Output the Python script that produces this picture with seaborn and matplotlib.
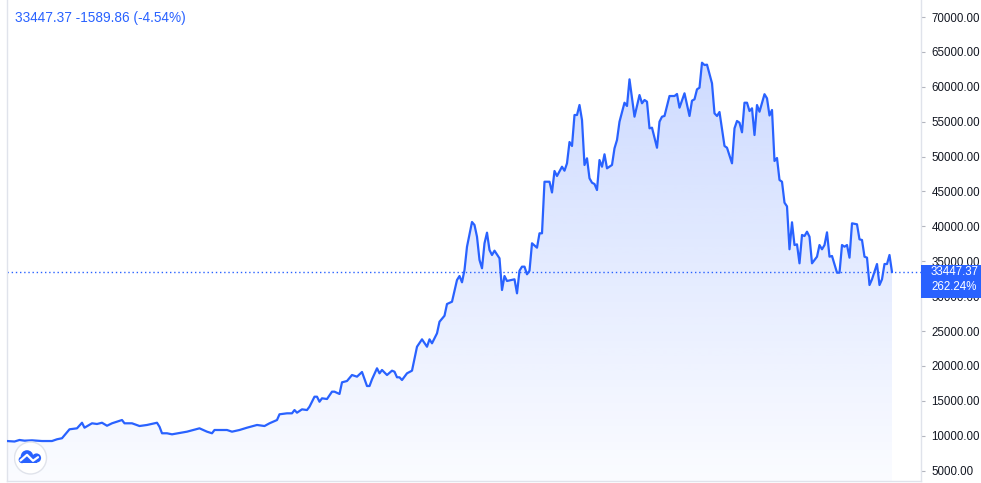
import numpy as np
import pandas as pd
import matplotlib
matplotlib.use("Agg")
import matplotlib.pyplot as plt
import seaborn as sns
from matplotlib.patches import Rectangle, Circle, PathPatch
from matplotlib.path import Path
from matplotlib.colors import to_rgb
from matplotlib.transforms import blended_transform_factory

# ---------------- data ----------------
days = [0, 3, 5, 7, 10, 14, 18, 20, 22, 25, 28, 30, 31, 34, 36, 38, 40, 42, 46, 47,
        50, 53, 56, 60, 61, 62, 64, 66, 72, 77, 80, 82, 83, 88, 90, 93, 96, 100, 103, 105,
        108, 109, 112, 114, 115, 116, 118, 120, 121, 123, 124,
        125, 126, 128, 130, 131, 133, 134, 136, 138, 140, 142, 144, 145, 146, 148, 149, 150, 152, 154, 155,
        156, 157, 158, 160, 162, 164, 166, 168, 169, 170, 172, 173, 175, 176, 178, 180, 181, 182, 183, 184,
        186, 187, 188, 189, 190, 191, 192, 193, 194, 195, 197, 198, 199, 200, 203, 204, 205, 206, 207, 208,
        209, 210, 212, 213, 214,
        215, 217, 218, 219, 220, 222, 223, 224, 225, 226, 227, 228, 229, 230, 231, 232, 233, 234, 235, 236,
        237, 238, 239, 240, 242, 243, 244, 245, 247, 248, 249, 251, 253, 254, 255, 256, 257, 258, 260, 261,
        262, 263, 265, 267, 268, 269, 271, 273, 274, 275, 276, 277, 278, 279, 280,
        282, 283, 284, 285, 287, 288, 290, 291, 292, 293, 294, 295, 296, 297, 298, 299, 300, 301, 303, 304,
        305, 306, 307, 308, 309, 310, 311, 312, 313, 314, 315, 316, 317, 318, 319, 320, 321, 322, 324, 325,
        326, 327, 328, 329, 330, 332, 333, 334, 335, 336, 337, 338, 340, 341, 342, 343, 344, 345, 346, 348,
        349, 350, 351, 352, 353, 354]

prices = [9250, 9180, 9400, 9300, 9350, 9250, 9250, 9500, 9650, 10930, 11070, 11870, 11160, 11790, 11690, 11870, 11440, 11790, 12260, 11790,
          11790, 11400, 11550, 11870, 11300, 10360, 10360, 10210, 10590, 11070, 10590, 10360, 10830, 10830, 10590, 10830, 11160, 11550, 11400, 11790,
          12260, 13080, 13220, 13220, 13690, 13310, 13790, 13690, 14170, 15600, 15600,
          14880, 15370, 15270, 16320, 16320, 15990, 17660, 17850, 18710, 18470, 19140, 17130, 17130, 18090, 19670, 18950, 19430, 18710, 19330, 19180,
          18380, 18380, 17990, 18950, 19330, 22760, 23820, 22760, 23820, 23250, 24680, 26340, 27200, 28880, 29210, 32320, 32890, 31990, 33750, 37090,
          40630, 40200, 38520, 35190, 34000, 37580, 39100, 36620, 35900, 36520, 35430, 30890, 32890, 32180, 32420, 30410, 33650, 34230, 34230, 33140,
          33650, 37580, 36950, 39010, 39010,
          46400, 46400, 44860, 47940, 47220, 48550, 47980, 49040, 52090, 51520, 55960, 55960, 57390, 55240, 48800, 49760, 46890, 46260, 46070, 45210,
          49510, 48550, 50330, 48320, 48800, 51190, 52380, 55000, 57720, 57250, 61070, 55720, 58820, 57640, 58110, 57870, 54050, 54140, 51270, 55000,
          55720, 55820, 58680, 58680, 58970, 57010, 59070, 55820, 58010, 58210, 59640, 59870, 63450, 63120, 63170,
          60500, 56200, 55820, 56390, 51520, 51270, 49040, 54050, 55100, 54860, 53480, 57720, 57720, 56530, 56920, 53090, 57390, 56430, 58940, 58350,
          55890, 56680, 49370, 49800, 46650, 46400, 43400, 42870, 36720, 40590, 37330, 37430, 34710, 38770, 38620, 39240, 38520, 34710, 35660, 37330,
          36720, 37330, 39150, 35660, 35760, 33370, 33370, 37330, 37090, 37330, 35520, 40440, 40300, 38150, 38050, 35660, 35520, 31600, 32420, 34610,
          31600, 32420, 34610, 34610, 35900, 33447.37]

last_price = 33447.37
change_abs = -1589.86
change_pct = -4.54
total_pct = 262.24

y_ticks = list(range(5000, 70001, 5000))
y_tick_labels = [f"{v:.2f}" for v in y_ticks]

assert len(days) == len(prices)
df = pd.DataFrame({"day": days, "price": prices})

# ---------------- style ----------------
BLUE = "#2962ff"
GRID = "#e0e3eb"
TEXT = "#131722"

sns.set_theme(style="white")
plt.rcParams["font.family"] = ["Liberation Sans", "DejaVu Sans"]

W, H = 981, 483
fig = plt.figure(figsize=(W / 100, H / 100), dpi=100)
fig.patch.set_facecolor("white")
ax = fig.add_axes([7 / W, 2 / H, 914 / W, 481 / H])
ax.set_facecolor("white")

y_lo, y_hi = 3523, 72436
x_lo, x_hi = 0, 365.6

# line
sns.lineplot(data=df, x="day", y="price", color=BLUE, linewidth=1.6, ax=ax,
             zorder=3, legend=False)

# gradient area under the line
verts = [(days[0], y_lo)] + list(zip(days, prices)) + [(days[-1], y_lo)]
area_path = Path(verts + [verts[0]], [Path.MOVETO] + [Path.LINETO] * (len(verts) - 1) + [Path.CLOSEPOLY])
patch = PathPatch(area_path, facecolor="none", edgecolor="none")
ax.add_patch(patch)
grad = np.zeros((256, 1, 4))
grad[..., :3] = to_rgb(BLUE)
grad[:, 0, 3] = np.linspace(0.02, 0.23, 256)
im = ax.imshow(grad, aspect="auto", origin="lower",
               extent=[days[0], days[-1], y_lo, max(prices)], zorder=1,
               interpolation="bilinear")
im.set_clip_path(patch)

# dotted last-price line
ax.axhline(last_price, color=BLUE, linestyle=(0, (1, 2)), linewidth=1, zorder=2)

ax.set_xlim(x_lo, x_hi)
ax.set_ylim(y_lo, y_hi)
ax.set_xlabel("")
ax.set_ylabel("")
ax.set_xticks([])
ax.yaxis.tick_right()
ax.set_yticks(y_ticks)
ax.set_yticklabels(y_tick_labels)
ax.tick_params(axis="y", which="both", right=True, left=False, length=3, width=0.8,
               color="#b2b5be", pad=4.5, labelsize=8.3, labelcolor=TEXT)
for s in ["left", "bottom", "right"]:
    ax.spines[s].set_visible(True)
    ax.spines[s].set_color(GRID)
    ax.spines[s].set_linewidth(1)
ax.spines["top"].set_visible(False)

# price label box on the right axis
bt = blended_transform_factory(fig.transFigure, ax.transData)
px = 1000 / 6.975  # data units per pixel
box = Rectangle((921 / W, last_price - 26 * px), 60 / W, 33 * px, transform=bt,
                facecolor=BLUE, edgecolor="none", clip_on=False, zorder=5)
ax.add_patch(box)
ax.text(931 / W, last_price, f"{last_price:.2f}", transform=bt, color="white",
        fontsize=8.3, va="center", ha="left", clip_on=False, zorder=6)
ax.text(931 / W, last_price - 15 * px, f"{total_pct:.2f}%", transform=bt, color="white",
        fontsize=8.3, va="center", ha="left", clip_on=False, zorder=6)

# legend-like header
fig.text(15 / W, 1 - 18 / H,
         f"{last_price:.2f} {change_abs:.2f} ({change_pct:.2f}%)",
         color=BLUE, fontsize=9.8, va="center", ha="left")

# logo badge
lax = fig.add_axes([13.5 / W, (H - 475) / H, 34 / W, 34 / H])
lax.set_xlim(-17, 17)
lax.set_ylim(-17, 17)
lax.axis("off")
lax.add_patch(Circle((0, 0), 16, facecolor="white", edgecolor="#e0e3eb", linewidth=1))
for (cx, cy, r) in [(-3.5, 1.5, 6.3), (6.0, 0.0, 4.6), (-8.5, -1.8, 3.4)]:
    lax.add_patch(Circle((cx, cy), r, facecolor=BLUE, edgecolor="none"))
lax.add_patch(Rectangle((-8.5, -5.2), 15, 4, facecolor=BLUE, edgecolor="none"))
lax.plot([-10, -3.5, 2.5, 7.5], [-2.5, 3.2, -2.8, 0.8], color="white", linewidth=1.6,
         solid_capstyle="round")

fig.savefig("out.png", dpi=100, facecolor="white")
